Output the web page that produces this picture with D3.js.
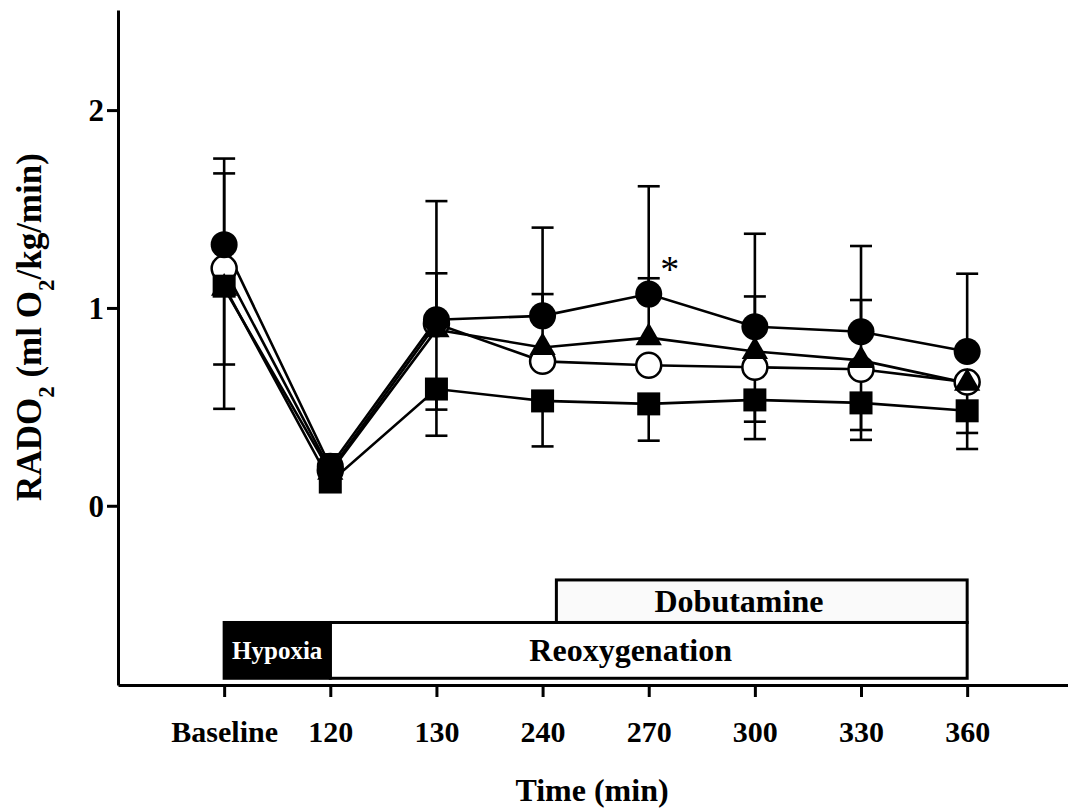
<!DOCTYPE html>
<html>
<head>
<meta charset="utf-8">
<script src="https://cdn.jsdelivr.net/npm/d3@7"></script>
<style>
  html, body { margin: 0; padding: 0; background: #fff; }
  svg { display: block; }
  text { font-family: "Liberation Serif", "Times New Roman", serif; }
</style>
</head>
<body>
<svg id="chart" width="1068" height="811"></svg>
<script>
// ---------- data ----------
const categories = ["Baseline", "120", "130", "240", "270", "300", "330", "360"];
const yTickValues = [0, 1, 2];

const filledCircleMean  = [1.32, 0.20, 0.94, 0.96, 1.07, 0.905, 0.88, 0.78];
const openCircleMean    = [1.20, 0.18, 0.92, 0.73, 0.71, 0.70, 0.69, 0.625];
const triangleMean      = [1.10, 0.17, 0.89, 0.80, 0.85, 0.78, 0.735, 0.62];
const squareMean        = [1.11, 0.12, 0.59, 0.53, 0.515, 0.535, 0.52, 0.48];

// whisker ends (null = not drawn / hidden)
const filledCircleUpper = [1.755, 0.26, 1.54, 1.406, 1.615, 1.375, 1.313, 1.173];
const openCircleUpper   = [1.68, null, null, null, null, null, null, null];
const openCircleLower   = [0.714, null, 0.486, null, null, 0.425, 0.383, 0.368];
const triangleUpper     = [null, null, 1.175, 1.07, 1.15, 1.058, 1.04, null];
const squareLower       = [0.49, null, 0.354, 0.30, 0.329, 0.337, 0.333, 0.287];

const phaseLabels = ["Hypoxia", "Reoxygenation", "Dobutamine"];
const phaseStart  = [0, 1, 3.13];
const phaseEnd    = [1, 7, 7];
const phaseTop    = [-0.59, -0.59, -0.375];
const phaseBottom = [-0.872, -0.872, -0.59];
const phaseLabelAt = [0.5, 3.83, 4.85];

const significance = [{ index: 4, value: 1.07, label: "*" }];

// ---------- layout ----------
const svg = d3.select("#chart");
const x = d3.scaleLinear().domain([-1, 7.95]).range([118, 1068]);
const y = d3.scaleLinear().domain([-0.906, 2.506]).range([685, 10]);

const series = [
  { name: "open circle",   marker: "openCircle",   mean: openCircleMean,   upper: openCircleUpper, lower: openCircleLower },
  { name: "filled circle", marker: "filledCircle", mean: filledCircleMean, upper: filledCircleUpper, lower: null },
  { name: "triangle",      marker: "triangle",     mean: triangleMean,     upper: triangleUpper, lower: null },
  { name: "square",        marker: "square",       mean: squareMean,       upper: null, lower: squareLower }
];

// ---------- phase boxes ----------
const phaseG = svg.append("g");
[2, 1, 0].forEach(i => {
  phaseG.append("rect")
    .attr("x", x(phaseStart[i]))
    .attr("y", y(phaseTop[i]))
    .attr("width", x(phaseEnd[i]) - x(phaseStart[i]))
    .attr("height", y(phaseBottom[i]) - y(phaseTop[i]))
    .attr("fill", i === 0 ? "#000" : (i === 2 ? "#fafafa" : "#fff"))
    .attr("stroke", "#000")
    .attr("stroke-width", 3);
});
phaseLabels.forEach((lab, i) => {
  const mid = (y(phaseTop[i]) + y(phaseBottom[i])) / 2;
  phaseG.append("text")
    .attr("x", x(phaseLabelAt[i]))
    .attr("y", mid + (i === 0 ? 9 : 11))
    .attr("text-anchor", "middle")
    .attr("font-weight", "bold")
    .attr("font-size", i === 0 ? 25 : 32)
    .attr("fill", i === 0 ? "#fff" : "#000")
    .text(lab);
});

// ---------- axes ----------
const xAxis = d3.axisBottom(x)
  .tickValues(d3.range(categories.length))
  .tickFormat(i => categories[i])
  .tickSize(12)
  .tickSizeOuter(0);
const gx = svg.append("g").attr("transform", `translate(0,${y(-0.906)})`).call(xAxis);
gx.select(".domain").attr("stroke-width", 3);
gx.selectAll(".tick line").attr("stroke-width", 3);
gx.selectAll(".tick text")
  .attr("font-family", "Liberation Serif, serif")
  .attr("font-weight", "bold")
  .attr("font-size", 30)
  .attr("fill", "#000")
  .attr("dy", 0)
  .attr("y", 57);

const yAxis = d3.axisLeft(y)
  .tickValues(yTickValues)
  .tickFormat(d3.format("d"))
  .tickSize(11)
  .tickSizeOuter(0);
const gy = svg.append("g").attr("transform", `translate(${x(-1)},0)`).call(yAxis);
gy.select(".domain").attr("stroke-width", 3);
gy.selectAll(".tick line").attr("stroke-width", 3);
gy.selectAll(".tick text")
  .attr("font-family", "Liberation Serif, serif")
  .attr("font-weight", "bold")
  .attr("font-size", 31)
  .attr("fill", "#000")
  .attr("x", -14)
  .attr("dy", "0.34em");

// axis titles
svg.append("text")
  .attr("x", 592)
  .attr("y", 801)
  .attr("text-anchor", "middle")
  .attr("font-weight", "bold")
  .attr("font-size", 32)
  .text("Time (min)");

const yl = svg.append("text")
  .attr("transform", `translate(41,327) rotate(-90)`)
  .attr("text-anchor", "middle")
  .attr("font-weight", "bold")
  .attr("font-size", 35);
yl.append("tspan").text("RADO");
yl.append("tspan").attr("baseline-shift", "sub").attr("font-size", 23).text("2");
yl.append("tspan").text(" (ml O");
yl.append("tspan").attr("baseline-shift", "sub").attr("font-size", 23).text("2");
yl.append("tspan").text("/kg/min)");

// ---------- lines ----------
const line = d3.line().x((d, i) => x(i)).y(d => y(d));
const linesG = svg.append("g");
series.forEach(s => {
  linesG.append("path")
    .attr("d", line(s.mean))
    .attr("fill", "none")
    .attr("stroke", "#000")
    .attr("stroke-width", 2.6);
});

// ---------- error bars ----------
const errG = svg.append("g").attr("stroke", "#000").attr("stroke-width", 2.6);
const capHalf = 11;
series.forEach(s => {
  [s.upper, s.lower].forEach(ends => {
    if (!ends) return;
    ends.forEach((e, i) => {
      if (e === null) return;
      errG.append("line").attr("x1", x(i)).attr("x2", x(i)).attr("y1", y(s.mean[i])).attr("y2", y(e));
      errG.append("line").attr("x1", x(i) - capHalf).attr("x2", x(i) + capHalf).attr("y1", y(e)).attr("y2", y(e));
    });
  });
});

// ---------- markers ----------
const markG = svg.append("g");
series.forEach(s => {
  s.mean.forEach((v, i) => {
    const cx = x(i), cy = y(v);
    if (s.marker === "filledCircle") {
      markG.append("circle").attr("cx", cx).attr("cy", cy).attr("r", 13.5).attr("fill", "#000");
    } else if (s.marker === "openCircle") {
      markG.append("circle").attr("cx", cx).attr("cy", cy).attr("r", 12.5).attr("fill", "#fff").attr("stroke", "#000").attr("stroke-width", 2.5);
    } else if (s.marker === "triangle") {
      markG.append("path")
        .attr("d", d3.symbol().type(d3.symbolTriangle).size(300)())
        .attr("transform", `translate(${cx},${cy})`)
        .attr("fill", "#000");
    } else if (s.marker === "square") {
      markG.append("rect").attr("x", cx - 11.5).attr("y", cy - 11.5).attr("width", 23).attr("height", 23).attr("fill", "#000");
    }
  });
});

// ---------- significance ----------
significance.forEach(d => {
  svg.append("text")
    .attr("x", x(d.index) + 21)
    .attr("y", y(d.value) - 12)
    .attr("text-anchor", "middle")
    .attr("font-size", 38)
    .text(d.label);
});
</script>
</body>
</html>
